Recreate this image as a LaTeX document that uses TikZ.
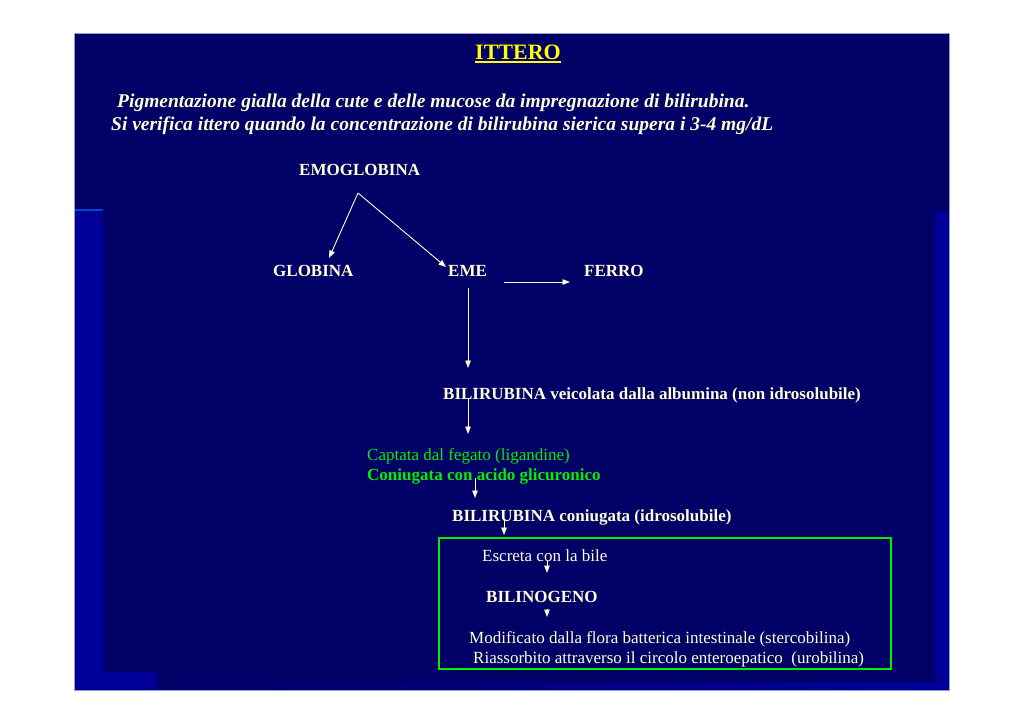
\documentclass[tikz,border=0pt]{standalone}
\usepackage{fontspec}
\setmainfont{Liberation Serif}
\usetikzlibrary{arrows.meta}
\definecolor{slide}{HTML}{000066}
\definecolor{slidelight}{HTML}{000099}
\definecolor{slideline}{HTML}{0048CC}
\definecolor{cream}{HTML}{FFFFD8}
\definecolor{liver}{HTML}{00F000}
\definecolor{titleyellow}{HTML}{FFFF00}
\begin{document}
\begin{tikzpicture}[x=1pt,y=-1pt,
  txt/.style={anchor=base west, inner sep=0pt, text=cream, font=\fontsize{17}{19}\selectfont},
  btxt/.style={txt, font=\fontsize{17}{19}\selectfont\bfseries},
  arr/.style={draw=cream, line width=0.9pt, -{Triangle[length=7.5pt,width=5.5pt]}}]
\useasboundingbox (0,0) rectangle (1024,724);
% slide background
\fill[white] (0,0) rectangle (1024,724);
\fill[slide] (74,33) rectangle (949,690);
\fill[slidelight] (74,211) rectangle (103,690);
\fill[slidelight] (74,672) rectangle (157,690);
\fill[slidelight] (935,211) rectangle (949,690);
\shade[left color=slide, right color=slidelight] (157,682) rectangle (935,690);
\draw[slideline, line width=1.5pt] (74,210) -- (103,210);
\draw[slidelight!40!white, line width=0.6pt] (74,33) rectangle (949,690);
% title and definition
\node [btxt, anchor=base, text=titleyellow, font=\fontsize{22}{24}\selectfont\bfseries] (title) at (518,59) {ITTERO};
\draw[titleyellow, line width=1.5pt] ([yshift=-3pt]title.base west) -- ([yshift=-3pt]title.base east);
\node [btxt, font=\fontsize{19.5}{21}\selectfont\bfseries\itshape] (intro1) at (117,107) {Pigmentazione gialla della cute e delle mucose da impregnazione di bilirubina.};
\node [btxt, font=\fontsize{19.5}{21}\selectfont\bfseries\itshape] (intro2) at (111,130) {Si verifica ittero quando la concentrazione di bilirubina sierica supera i 3-4 mg/dL};
% degradation of haemoglobin
\node [btxt] (emoglobina) at (299,175) {EMOGLOBINA};
\node [btxt] (globina) at (273,276) {GLOBINA};
\node [btxt] (eme) at (448,276) {EME};
\node [btxt] (ferro) at (584,276) {FERRO};
\node [btxt] (bilialb) at (443,399) {BILIRUBINA veicolata dalla albumina (non idrosolubile)};
\node [txt, text=liver] (captata) at (367,460) {Captata dal fegato (ligandine)};
\node [btxt, text=liver] (coniugata) at (367,480) {Coniugata con acido glicuronico};
\node [btxt] (bilicon) at (452,521) {BILIRUBINA coniugata (idrosolubile)};
% intestinal part
\node [draw=liver, line width=1.6pt, minimum width=452pt, minimum height=131pt, anchor=north west, inner sep=0pt] (gut) at (438,537) {};
\node [txt] (escreta) at (482,561) {Escreta con la bile};
\node [btxt] (bilinogeno) at (486,602) {BILINOGENO};
\node [txt] (modificato) at (469,643) {Modificato dalla flora batterica intestinale (stercobilina)};
\node [txt] (riassorbito) at (473,663) {Riassorbito attraverso il circolo enteroepatico \ (urobilina)};
% arrow ends
\coordinate (fork) at (358,193);
\coordinate (globinaIn) at (329,258);
\coordinate (emeIn) at (446,267);
\coordinate (emeRight) at (504,282);
\coordinate (ferroIn) at (570,282);
\coordinate (emeDown) at (468,288);
\coordinate (bilialbIn) at (468,368);
\coordinate (bilialbDown) at (468,398);
\coordinate (captataIn) at (468,434);
\coordinate (coniugataDown) at (475,478);
\coordinate (biliconIn) at (475,498);
\coordinate (biliconDown) at (504,520);
\coordinate (gutIn) at (504,535);
\coordinate (escretaDown) at (547,560);
\coordinate (bilinogenoIn) at (547,573);
\coordinate (bilinogenoDown) at (547,609);
\coordinate (modificatoIn) at (547,617);
\draw[arr] (fork) -- (globinaIn);
\draw[arr] (fork) -- (emeIn);
\draw[arr] (emeRight) -- (ferroIn);
\draw[arr] (emeDown) -- (bilialbIn);
\draw[arr] (bilialbDown) -- (captataIn);
\draw[arr] (coniugataDown) -- (biliconIn);
\draw[arr] (biliconDown) -- (gutIn);
\draw[arr] (escretaDown) -- (bilinogenoIn);
\draw[arr] (bilinogenoDown) -- (modificatoIn);
\end{tikzpicture}
\end{document}
